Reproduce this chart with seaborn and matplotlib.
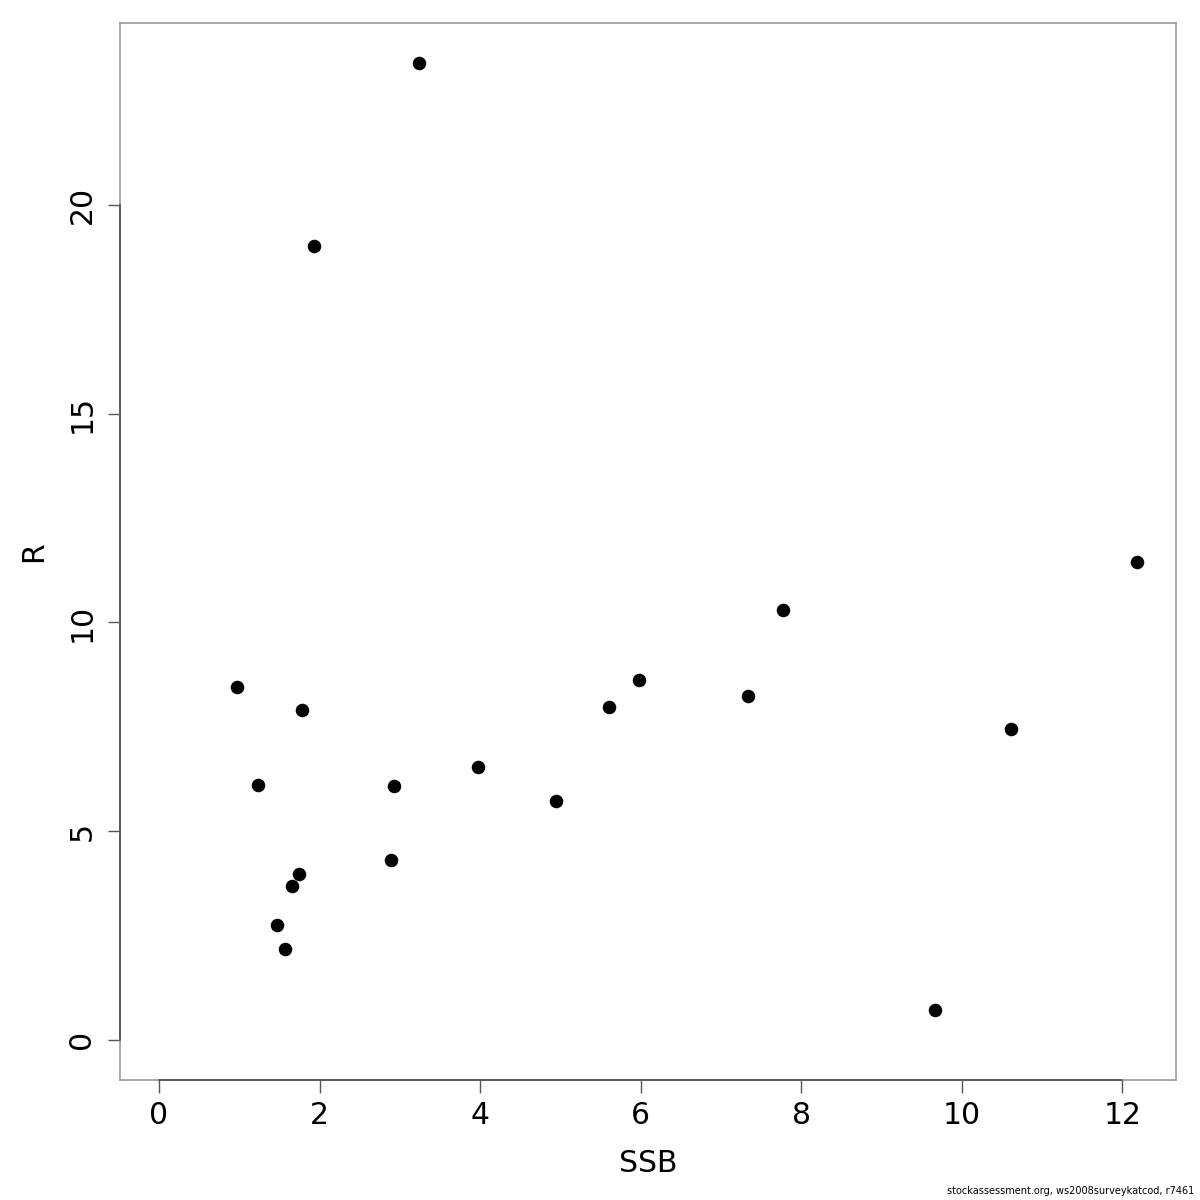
import numpy as np
import pandas as pd
import matplotlib
matplotlib.use("Agg")
import matplotlib.pyplot as plt
import seaborn as sns

# SSB / R values
ssb = [3.24, 1.93, 0.97, 1.78, 1.23, 2.93, 3.98, 4.95, 5.60, 5.98,
       7.34, 7.78, 12.19, 10.62, 9.67, 2.89, 1.74, 1.66, 1.47, 1.57]
rec = [23.40, 19.02, 8.46, 7.90, 6.11, 6.08, 6.54, 5.72, 7.98, 8.62,
       8.24, 10.30, 11.45, 7.45, 0.72, 4.31, 3.98, 3.69, 2.75, 2.18]
x_ticks = [0, 2, 4, 6, 8, 10, 12]
y_ticks = [0, 5, 10, 15, 20]

df = pd.DataFrame({'SSB': ssb, 'R': rec})

sns.set_style('white')
plt.rcParams['font.family'] = ['DejaVu Sans']
plt.rcParams['text.color'] = 'black'
plt.rcParams['axes.labelcolor'] = 'black'
plt.rcParams['xtick.labelcolor'] = 'black'
plt.rcParams['ytick.labelcolor'] = 'black'

fig = plt.figure(figsize=(12, 12), dpi=100)
ax = fig.add_axes([0.1, 0.1, 0.88, 0.8808])

sns.scatterplot(data=df, x='SSB', y='R', ax=ax, color='black', s=95,
                edgecolor='black', linewidth=0, legend=False)

ax.set_xlim(-0.486, 12.67)
ax.set_ylim(-0.96, 24.36)
ax.set_xticks(x_ticks)
ax.set_yticks(y_ticks)
ax.set_xticklabels([str(t) for t in x_ticks], fontsize=21.5, color='black')
ax.set_yticklabels([str(t) for t in y_ticks], fontsize=21.5, rotation=90, va='center', color='black')
ax.tick_params(axis='both', direction='out', length=9, width=1, color='#555555',
               bottom=True, left=True)
ax.tick_params(axis='x', pad=6)
ax.tick_params(axis='y', pad=8)

for sp in ax.spines.values():
    sp.set_color('#999999')
    sp.set_linewidth(1.2)

# darker axis segments between first and last tick, like base R
ax.plot([0, 12], [-0.96, -0.96], color='#555555', lw=1.3, clip_on=False, zorder=5)
ax.plot([-0.486, -0.486], [0, 20], color='#555555', lw=1.3, clip_on=False, zorder=5)

ax.set_xlabel('SSB', fontsize=21.5, labelpad=14, color='black')
ax.set_ylabel('R', fontsize=21.5, labelpad=14, color='black')

fig.text(0.995, 0.003, 'stockassessment.org, ws2008surveykatcod, r7461',
         ha='right', va='bottom', fontsize=7, color='black')

fig.savefig('out.png', dpi=100)
